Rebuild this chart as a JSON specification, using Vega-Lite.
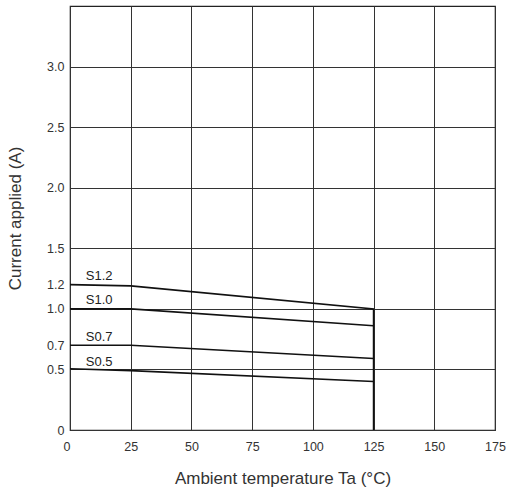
{
  "$schema": "https://vega.github.io/schema/vega-lite/v6.json",
  "width": 425,
  "height": 424,
  "autosize": {"type": "none"},
  "padding": {"left": 70, "top": 6, "right": 15, "bottom": 61},
  "background": "white",
  "config": {
    "font": "Liberation Sans",
    "view": {"stroke": "#222", "strokeWidth": 1.2},
    "axis": {
      "labelColor": "#333",
      "titleColor": "#333",
      "labelFont": "Liberation Sans",
      "titleFont": "Liberation Sans",
      "titleFontWeight": "normal",
      "labelFontSize": 12.5,
      "titleFontSize": 17,
      "gridColor": "#333",
      "gridOpacity": 1,
      "gridWidth": 1,
      "domain": false,
      "ticks": false
    }
  },
  "datasets": {
    "curves": [
      {"series": "S1.2", "order": 1, "temp": 0, "current": 1.2},
      {"series": "S1.2", "order": 2, "temp": 25, "current": 1.19},
      {"series": "S1.2", "order": 3, "temp": 125, "current": 1.0},
      {"series": "S1.2", "order": 4, "temp": 125, "current": 0},
      {"series": "S1.0", "order": 1, "temp": 0, "current": 1.0},
      {"series": "S1.0", "order": 2, "temp": 25, "current": 1.0},
      {"series": "S1.0", "order": 3, "temp": 125, "current": 0.86},
      {"series": "S0.7", "order": 1, "temp": 0, "current": 0.7},
      {"series": "S0.7", "order": 2, "temp": 25, "current": 0.7},
      {"series": "S0.7", "order": 3, "temp": 125, "current": 0.59},
      {"series": "S0.5", "order": 1, "temp": 0, "current": 0.505},
      {"series": "S0.5", "order": 2, "temp": 25, "current": 0.49},
      {"series": "S0.5", "order": 3, "temp": 125, "current": 0.4}
    ],
    "labels": [
      {"label": "S1.2", "temp": 12, "current": 1.2},
      {"label": "S1.0", "temp": 12, "current": 1.0},
      {"label": "S0.7", "temp": 12, "current": 0.69},
      {"label": "S0.5", "temp": 12, "current": 0.49}
    ]
  },
  "layer": [
    {
      "data": {"name": "curves"},
      "mark": {"type": "line", "color": "#111", "strokeWidth": 1.6},
      "encoding": {
        "x": {
          "field": "temp",
          "type": "quantitative",
          "scale": {"domain": [0, 175], "nice": false, "zero": false},
          "axis": {
            "values": [0, 25, 50, 75, 100, 125, 150, 175],
            "title": "Ambient temperature Ta (°C)",
            "labelPadding": 10,
            "labelAlign": {"condition": {"test": "datum.value == 0", "value": "right"}, "value": "center"},
            "titlePadding": 18,
            "grid": true
          }
        },
        "y": {
          "field": "current",
          "type": "quantitative",
          "scale": {"domain": [0, 3.5], "nice": false},
          "axis": {
            "values": [0, 0.5, 0.7, 1.0, 1.2, 1.5, 2.0, 2.5, 3.0],
            "labelExpr": "datum.value == 0 ? '0' : format(datum.value, '.1f')",
            "title": "Current applied (A)",
            "labelPadding": 6,
            "titlePadding": 22,
            "grid": true,
            "gridOpacity": {"condition": {"test": "datum.value == 0.7 || datum.value == 1.2", "value": 0}, "value": 1}
          }
        },
        "detail": {"field": "series"},
        "order": {"field": "order"}
      }
    },
    {
      "data": {"name": "labels"},
      "mark": {"type": "text", "align": "center", "baseline": "alphabetic", "dy": -5, "fontSize": 13, "color": "#222", "font": "Liberation Sans"},
      "encoding": {
        "x": {"field": "temp", "type": "quantitative"},
        "y": {"field": "current", "type": "quantitative"},
        "text": {"field": "label"}
      }
    }
  ]
}
